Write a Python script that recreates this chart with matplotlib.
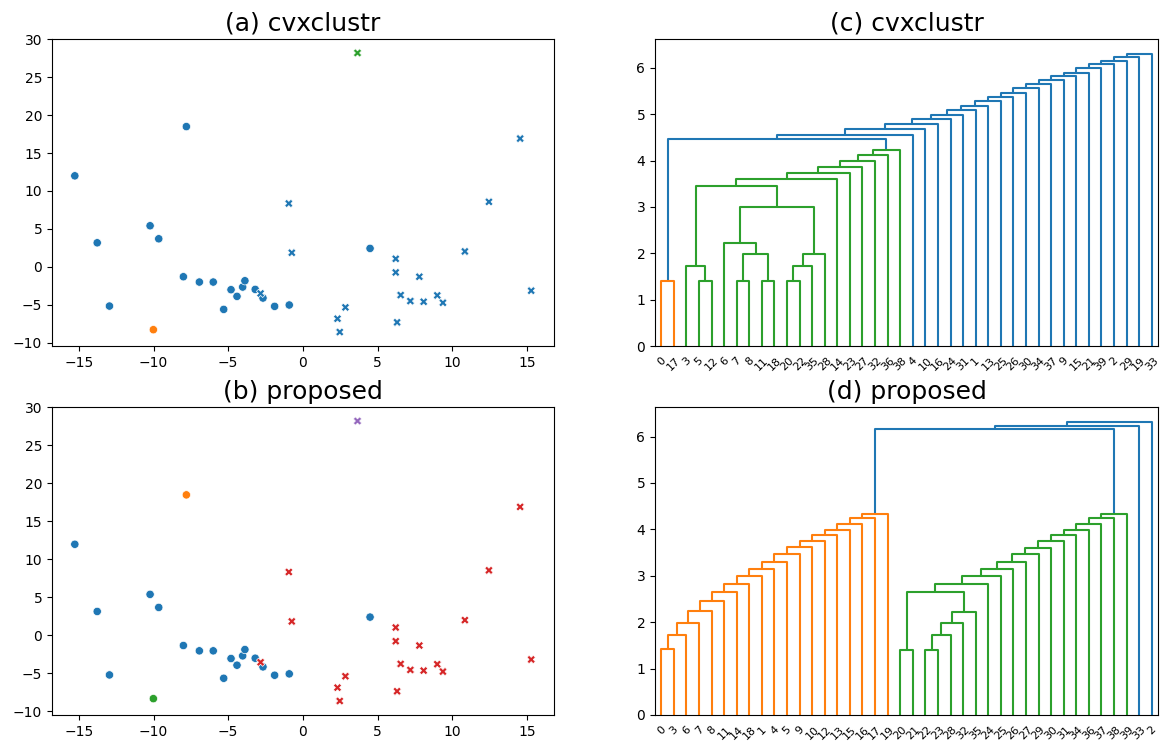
import numpy as np
import matplotlib
matplotlib.use("Agg")
import matplotlib.pyplot as plt
from matplotlib.collections import LineCollection

# ---------------- scatter data ----------------
# points: x, y, true class (0 = circle, 1 = X), cluster label in (a) and (b)
pt_x = [-15.27, -13.77, -12.95, -10.23, -9.65, -7.80, -8.00, -6.93, -6.00, -5.30,
        -4.81, -4.41, -4.03, -3.88, -3.19, -2.67, -1.89, -0.91, 4.50, -10.01,
        -2.83, -0.94, -0.74, 2.32, 2.47, 2.85, 6.22, 6.22, 6.31, 6.55,
        7.20, 7.80, 8.09, 9.00, 9.38, 10.85, 12.46, 14.55, 15.29, 3.66]
pt_y = [12.0, 3.16, -5.19, 5.41, 3.69, 18.5, -1.32, -2.02, -2.02, -5.63,
        -3.03, -3.91, -2.68, -1.85, -2.99, -4.13, -5.23, -5.05, 2.42, -8.31,
        -3.52, 8.35, 1.85, -6.86, -8.62, -5.36, 1.05, -0.75, -7.34, -3.74,
        -4.53, -1.32, -4.62, -3.78, -4.75, 2.02, 8.57, 16.92, -3.16, 28.22]
pt_class = [0] * 20 + [1] * 20
labels_a = [0] * 19 + [1] + [0] * 19 + [2]
labels_b = [0, 0, 0, 0, 0, 1, 0, 0, 0, 0, 0, 0, 0, 0, 0, 0, 0, 0, 0, 2] + [3] * 19 + [4]

# ---------------- dendrogram data (linkage: left, right, height) ----------------
n_leaves = 40
Z_c = [(0, 17, 1.40), (5, 12, 1.40), (7, 8, 1.40), (11, 18, 1.40), (20, 22, 1.40),
       (3, 41, 1.73), (44, 35, 1.73), (42, 43, 1.99), (46, 28, 1.99), (6, 47, 2.23),
       (49, 48, 2.99), (45, 50, 3.46), (51, 14, 3.60), (52, 23, 3.74), (53, 27, 3.87),
       (54, 32, 4.00), (55, 36, 4.12), (56, 38, 4.23), (40, 57, 4.46), (58, 4, 4.56),
       (59, 10, 4.68), (60, 16, 4.79), (61, 24, 4.90), (62, 31, 4.99), (63, 1, 5.10),
       (64, 13, 5.18), (65, 25, 5.28), (66, 26, 5.37), (67, 30, 5.47), (68, 34, 5.57),
       (69, 37, 5.66), (70, 9, 5.75), (71, 15, 5.82), (72, 21, 5.90), (73, 39, 6.00),
       (74, 2, 6.08), (75, 29, 6.16), (76, 19, 6.23), (77, 33, 6.31)]
Z_d = [(0, 3, 1.42), (40, 6, 1.72), (41, 7, 1.99), (42, 8, 2.23), (43, 11, 2.45),
       (44, 14, 2.64), (45, 18, 2.83), (46, 1, 3.00), (47, 4, 3.15), (48, 5, 3.30),
       (49, 9, 3.47), (50, 10, 3.61), (51, 12, 3.74), (52, 13, 3.87), (53, 15, 3.99),
       (54, 16, 4.12), (55, 17, 4.24), (56, 19, 4.34),
       (20, 21, 1.40), (22, 23, 1.40), (59, 28, 1.72), (60, 32, 1.98), (61, 35, 2.22),
       (58, 62, 2.64), (63, 24, 2.83), (64, 25, 2.99), (65, 26, 3.15), (66, 27, 3.30),
       (67, 29, 3.46), (68, 30, 3.60), (69, 31, 3.74), (70, 34, 3.87), (71, 36, 3.99),
       (72, 37, 4.12), (73, 38, 4.24), (74, 39, 4.34),
       (57, 75, 6.16), (76, 33, 6.23), (77, 2, 6.32)]

titles = ["(a) cvxclustr", "(b) proposed", "(c) cvxclustr", "(d) proposed"]


def draw_scatter(ax, labels):
    cols = [f"C{l}" for l in labels]
    for cls, mk in [(0, "o"), (1, "X")]:
        idx = [i for i in range(len(pt_x)) if pt_class[i] == cls]
        ax.scatter([pt_x[i] for i in idx], [pt_y[i] for i in idx],
                   c=[cols[i] for i in idx], marker=mk, s=36,
                   edgecolors="white", linewidths=0.48, zorder=2)


def draw_dendrogram(ax, Z, n):
    maxh = max(r[2] for r in Z)
    thr = 0.7 * maxh
    root = n + len(Z) - 1
    order = []
    pos = {}
    hgt = {}

    def layout(node):
        if node < n:
            pos[node] = 5.0 + 10.0 * len(order)
            hgt[node] = 0.0
            order.append(node)
            return
        a, b, h = Z[node - n]
        layout(a)
        layout(b)
        pos[node] = (pos[a] + pos[b]) / 2.0
        hgt[node] = h

    layout(root)

    segs, colors = [], []
    counter = [0]

    def paint(node, color):
        if node < n:
            return
        a, b, h = Z[node - n]
        if color is None and h < thr:
            counter[0] += 1
            color = f"C{counter[0]}"
        c = color if color is not None else "C0"
        segs.append([(pos[a], hgt[a]), (pos[a], h), (pos[b], h), (pos[b], hgt[b])])
        colors.append(c)
        paint(a, color)
        paint(b, color)

    paint(root, None)
    ax.add_collection(LineCollection(segs, colors=colors, linewidths=1.5))
    ax.set_xlim(0, 10 * n)
    ax.set_ylim(0, maxh * 1.05)
    ax.set_xticks([5 + 10 * i for i in range(n)])
    ax.set_xticklabels([str(l) for l in order], rotation=45, size=8)
    for line in ax.get_xticklines():
        line.set_visible(False)


fig = plt.figure(figsize=(11.64, 7.44), dpi=100)
ax_a = fig.add_axes([52 / 1164, 1 - 346 / 744, 502 / 1164, 307 / 744])
ax_b = fig.add_axes([52 / 1164, 1 - 715 / 744, 502 / 1164, 308 / 744])
ax_c = fig.add_axes([655 / 1164, 1 - 346 / 744, 503 / 1164, 307 / 744])
ax_d = fig.add_axes([655 / 1164, 1 - 715 / 744, 503 / 1164, 308 / 744])

draw_scatter(ax_a, labels_a)
draw_scatter(ax_b, labels_b)
draw_dendrogram(ax_c, Z_c, n_leaves)
draw_dendrogram(ax_d, Z_d, n_leaves)

for ax, t in zip([ax_a, ax_b, ax_c, ax_d], titles):
    ax.set_title(t, fontsize=18)

fig.savefig("out.png", dpi=100)
